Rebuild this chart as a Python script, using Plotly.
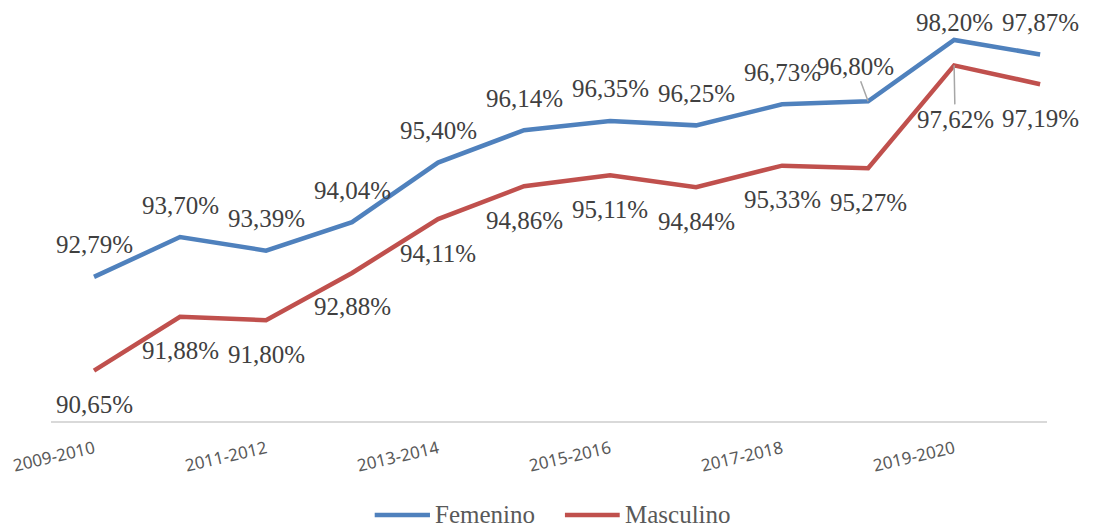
import plotly.graph_objects as go

categories = ["2009-2010", "2010-2011", "2011-2012", "2012-2013", "2013-2014", "2014-2015",
              "2015-2016", "2016-2017", "2017-2018", "2018-2019", "2019-2020", "2020-2021"]
femenino = [92.79, 93.70, 93.39, 94.04, 95.40, 96.14, 96.35, 96.25, 96.73, 96.80, 98.20, 97.87]
masculino = [90.65, 91.88, 91.80, 92.88, 94.11, 94.86, 95.11, 94.84, 95.33, 95.27, 97.62, 97.19]
tick_idx = [0, 2, 4, 6, 8, 10]
series_names = ["Femenino", "Masculino"]

FEM_COLOR = "#4F81BD"
MAS_COLOR = "#C0504D"
LABEL_FONT = dict(family="Liberation Serif", size=25, color="#404040")
LEGEND_FONT = dict(family="Liberation Serif", size=25, color="#595959")

x = list(range(len(categories)))

fig = go.Figure()
fig.add_trace(go.Scatter(x=x, y=femenino, mode="lines", name=series_names[0],
                         line=dict(color=FEM_COLOR, width=4.5), showlegend=False))
fig.add_trace(go.Scatter(x=x, y=masculino, mode="lines", name=series_names[1],
                         line=dict(color=MAS_COLOR, width=4.5), showlegend=False))

def fmt(v):
    return f"{v:.2f}".replace(".", ",") + "%"

annotations = []
for i, v in enumerate(femenino):
    a = dict(x=i, y=v, text=fmt(v), font=LABEL_FONT, showarrow=False, yshift=32)
    if i == 9:
        a.update(showarrow=True, arrowhead=0, arrowcolor="#A6A6A6", arrowwidth=1.5,
                 ax=-13, ay=-35, yshift=0)
    elif i == 10:
        a.update(yshift=17)
    annotations.append(a)
for i, v in enumerate(masculino):
    a = dict(x=i, y=v, text=fmt(v), font=LABEL_FONT, showarrow=False, yshift=-34)
    if i == 10:
        a.update(showarrow=True, arrowhead=0, arrowcolor="#A6A6A6", arrowwidth=1.5,
                 ax=1, ay=54, yshift=0)
    annotations.append(a)

# custom legend (longer line symbols like the original)
legend_y = -0.2276
shapes = []
for (x0, x1, tx), name, col in zip([(0.325, 0.3805, 0.3835), (0.516, 0.571, 0.574)],
                                   series_names, [FEM_COLOR, MAS_COLOR]):
    shapes.append(dict(type="line", xref="paper", yref="paper", x0=x0, x1=x1,
                       y0=legend_y, y1=legend_y, line=dict(color=col, width=4.5)))
    annotations.append(dict(xref="paper", yref="paper", x=tx, y=legend_y, text=name,
                            xanchor="left", yanchor="middle", showarrow=False,
                            font=LEGEND_FONT))

fig.update_layout(
    width=1090, height=519,
    margin=dict(l=43, r=51, t=0, b=106, autoexpand=False),
    paper_bgcolor="white", plot_bgcolor="white",
    showlegend=False,
    annotations=annotations,
    shapes=shapes,
    xaxis=dict(range=[-0.5, 11.08], tickmode="array", automargin=False,
               tickvals=tick_idx, ticktext=[categories[i] for i in tick_idx],
               tickangle=-13, showgrid=False, zeroline=False,
               showline=True, linecolor="#D9D9D9", linewidth=1.5, ticks="",
               ticklabelstandoff=10,
               tickfont=dict(family="Noto Sans", size=17, color="#595959")),
    yaxis=dict(range=[89.5, 98.93], visible=False, showgrid=False, automargin=False),
)

fig.write_html("out.html")
